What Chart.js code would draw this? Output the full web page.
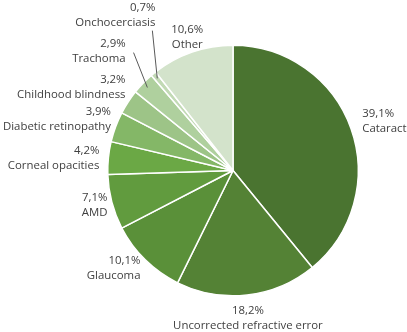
<!DOCTYPE html>
<html>
<head>
<meta charset="utf-8">
<script src="https://cdn.jsdelivr.net/npm/chart.js@4"></script>
<style>
  html, body { margin: 0; padding: 0; background: #ffffff; }
  #wrap { width: 407px; height: 332px; position: relative; }
</style>
</head>
<body>
<div id="wrap"><canvas id="c" width="407" height="332"></canvas></div>
<script>
const categories = ["Cataract", "Uncorrected refractive error", "Glaucoma", "AMD", "Corneal opacities",
  "Diabetic retinopathy", "Childhood blindness", "Trachoma", "Onchocerciasis", "Other"];
const values = [39.1, 18.2, 10.1, 7.1, 4.2, 3.9, 3.2, 2.9, 0.7, 10.6];
const valueLabels = ["39,1%", "18,2%", "10,1%", "7,1%", "4,2%", "3,9%", "3,2%", "2,9%", "0,7%", "10,6%"];

const colors = ["#4a7430", "#548235", "#5a9039", "#619b3e", "#6ba845",
  "#84b767", "#9dc487", "#afd09e", "#c2dab5", "#d3e3cb"];

// label placement: extra distance beyond radius, angle nudge (deg), alignment
const labelExtra = [13, 23, 9, 5, 9, 7, 11, 35, 48, 16];
const labelNudge = [-1.2, 0.7, -0.9, -0.9, -0.5, 2.4, 4.8, 3.8, 12.8, 0.2];
const labelAlign = ["left", "center", "right", "right", "right", "right", "right", "right", "right", "center"];
// leader line start offsets relative to label anchor (null = no leader)
const leaderStart = [null, null, null, null, null, null, null, [8, 1], [-3, 15], null];

const FONT = '11.4px "Open Sans", "Noto Sans", sans-serif';
const LINE_H = 15;

const labelPlugin = {
  id: 'outLabels',
  afterDatasetsDraw(chart) {
    const ctx = chart.ctx;
    const meta = chart.getDatasetMeta(0);
    ctx.save();
    ctx.font = FONT;
    ctx.fillStyle = '#404040';
    ctx.textBaseline = 'middle';
    meta.data.forEach((arc, i) => {
      const p = arc.getProps(['x', 'y', 'startAngle', 'endAngle', 'outerRadius'], true);
      const mid = (p.startAngle + p.endAngle) / 2;
      const a = mid + labelNudge[i] * Math.PI / 180;
      const R = p.outerRadius + labelExtra[i];
      const ax = p.x + Math.cos(a) * R;
      const ay = p.y + Math.sin(a) * R;
      ctx.textAlign = labelAlign[i];
      ctx.fillText(valueLabels[i], ax, ay - LINE_H / 2);
      ctx.fillText(categories[i], ax, ay + LINE_H / 2);
      if (leaderStart[i]) {
        const ex = p.x + Math.cos(mid) * (p.outerRadius - 6);
        const ey = p.y + Math.sin(mid) * (p.outerRadius - 6);
        ctx.beginPath();
        ctx.strokeStyle = '#595959';
        ctx.lineWidth = 1;
        ctx.moveTo(ax + leaderStart[i][0], ay + leaderStart[i][1]);
        ctx.lineTo(ex, ey);
        ctx.stroke();
      }
    });
    ctx.restore();
  }
};

new Chart(document.getElementById('c'), {
  type: 'pie',
  data: {
    labels: categories,
    datasets: [{
      data: values,
      backgroundColor: colors,
      borderColor: '#ffffff',
      borderWidth: 1.5,
      hoverOffset: 0
    }]
  },
  options: {
    responsive: false,
    animation: false,
    layout: { padding: { left: 107, right: 48, top: 44.5, bottom: 35.5 } },
    plugins: { legend: { display: false }, tooltip: { enabled: false } }
  },
  plugins: [labelPlugin]
});
</script>
</body>
</html>
